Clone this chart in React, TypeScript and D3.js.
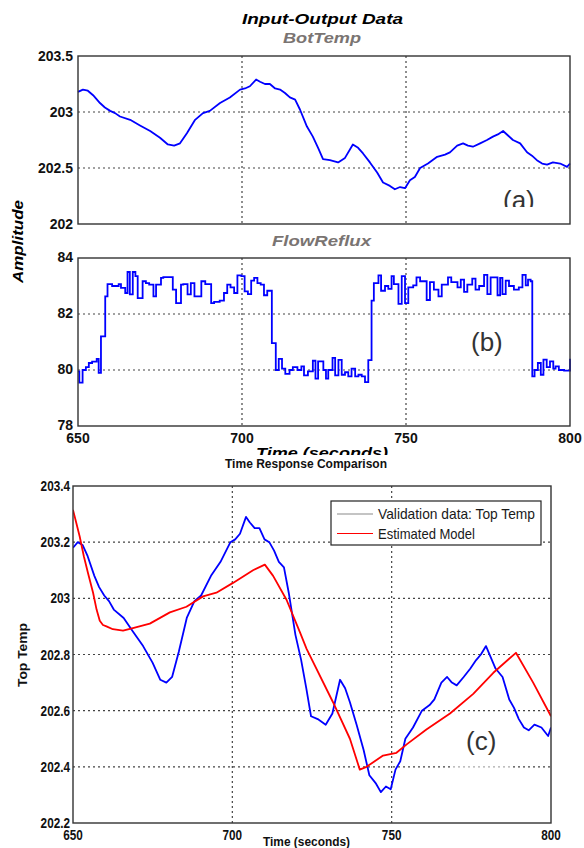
import React from 'react';
import * as d3 from 'd3';

const W = 584;
const H = 848;

// Column temperature output, time in seconds
const tempTime = [
  650.0, 651.5, 653.0, 654.6, 656.7, 658.2, 659.8, 661.3, 662.8, 665.9,
  668.9, 672.0, 675.0, 677.4, 679.3, 681.1, 683.2, 685.7, 688.1, 690.2,
  693.3, 696.3, 699.4, 700.9, 702.4, 704.3, 705.5, 707.0, 708.5, 710.1,
  711.6, 713.1, 714.6, 716.2, 717.7, 719.8, 721.6, 723.2, 724.7, 726.8,
  729.3, 731.4, 733.8, 735.4, 736.9, 739.0, 741.2, 743.0, 745.1, 746.6,
  748.2, 749.7, 751.2, 752.7, 754.3, 756.7, 759.5, 761.9, 763.4, 765.6,
  767.4, 768.9, 770.4, 772.6, 774.7, 776.5, 778.0, 779.6, 781.1, 782.6,
  784.8, 786.9, 788.4, 789.9, 791.5, 793.0, 794.8, 797.0, 799.1, 800.0,
];
const tempValue = [
  203.18, 203.20, 203.19, 203.15, 203.08, 203.04, 203.01, 202.99, 202.96, 202.93,
  202.88, 202.83, 202.77, 202.71, 202.70, 202.72, 202.81, 202.93, 202.99, 203.01,
  203.08, 203.13, 203.20, 203.21, 203.23, 203.29, 203.27, 203.25, 203.25, 203.21,
  203.20, 203.17, 203.13, 203.11, 203.02, 202.87, 202.78, 202.68, 202.58, 202.57,
  202.55, 202.59, 202.71, 202.68, 202.63, 202.55, 202.46, 202.37, 202.34, 202.31,
  202.33, 202.32, 202.39, 202.42, 202.50, 202.54, 202.60, 202.62, 202.64, 202.70,
  202.72, 202.70, 202.69, 202.72, 202.75, 202.78, 202.80, 202.83, 202.79, 202.75,
  202.72, 202.64, 202.61, 202.57, 202.54, 202.53, 202.55, 202.54, 202.51, 202.54,
];

// Reflux flow input (held between samples)
const flowTime = [
  650.0, 650.4, 651.4, 652.4, 653.3, 654.3, 655.7, 656.3, 657.0, 658.3,
  659.0, 660.4, 662.4, 663.1, 664.4, 665.1, 665.8, 666.7, 667.5, 668.2,
  669.7, 670.7, 671.7, 673.0, 673.8, 675.3, 676.0, 678.9, 679.9, 681.4,
  682.1, 683.4, 684.4, 685.5, 687.6, 688.8, 690.6, 691.5, 693.2, 694.5,
  695.5, 696.5, 697.6, 698.6, 699.8, 700.8, 701.8, 702.8, 703.7, 704.7,
  705.7, 706.7, 707.7, 709.1, 710.3, 711.2, 712.2, 713.2, 714.5, 715.5,
  716.9, 718.1, 718.9, 720.1, 721.6, 722.4, 723.2, 724.8, 725.6, 726.3,
  727.6, 728.4, 729.4, 730.4, 731.4, 732.4, 733.4, 734.5, 735.5, 736.5,
  737.5, 738.5, 739.5, 740.2, 741.6, 742.4, 743.6, 744.6, 745.6, 746.3,
  747.7, 748.7, 749.7, 750.7, 752.2, 753.2, 754.3, 756.3, 757.3, 758.5,
  759.9, 760.9, 762.8, 763.8, 765.7, 766.7, 767.7, 768.7, 770.2, 771.2,
  772.3, 773.8, 774.8, 775.8, 777.9, 778.7, 779.4, 780.4, 781.4, 782.9,
  784.4, 785.5, 786.5, 787.2, 788.0, 788.5, 789.2, 790.2, 791.1, 791.9,
  792.9, 793.9, 794.9, 795.6, 796.6, 798.2, 800.0,
];
const flowValue = [
  79.95, 79.55, 80.0, 80.1, 80.25, 80.3, 80.4, 79.9, 81.2, 82.63,
  83.07, 83.0, 83.07, 82.93, 82.75, 83.5, 82.7, 83.5, 83.35, 82.57,
  83.17, 83.1, 83.05, 82.63, 83.05, 83.29, 83.32, 82.87, 82.39, 83.05,
  83.07, 82.7, 83.1, 82.63, 83.17, 83.07, 82.39, 82.43, 82.48, 82.75,
  83.05, 82.95, 82.75, 83.38, 83.35, 82.81, 82.71, 83.19, 83.29, 83.1,
  83.05, 82.67, 82.83, 80.96, 80.0, 80.4, 80.05, 79.86, 80.0, 80.1,
  80.0, 80.13, 79.81, 79.95, 80.33, 79.69, 80.31, 80.0, 79.69, 80.0,
  80.43, 79.81, 80.36, 79.83, 79.92, 79.77, 80.05, 79.77, 79.83, 79.77,
  79.57, 80.35, 82.48, 83.1, 83.38, 82.83, 83.0, 82.9, 83.35, 83.07,
  82.36, 83.35, 82.39, 82.95, 83.02, 83.31, 83.17, 82.5, 83.14, 82.87,
  82.63, 83.05, 83.31, 83.14, 82.95, 83.23, 82.79, 83.05, 83.26, 82.87,
  83.0, 83.4, 82.71, 83.31, 82.67, 83.29, 82.71, 83.19, 83.0, 82.87,
  82.95, 83.4, 83.02, 83.23, 83.17, 79.77, 80.0, 80.25, 79.83, 80.37,
  80.1, 80.31, 80.05, 80.13, 80.0, 79.98, 80.4,
];

// Simulated response of the estimated model
const modelTime = [
  650.0, 651.0, 652.1, 653.4, 654.7, 656.3, 657.4, 658.4, 659.4, 660.5,
  662.5, 665.7, 668.8, 674.1, 680.4, 685.6, 690.8, 695.0, 700.2, 706.5,
  710.2, 712.8, 717.0, 721.2, 723.3, 731.6, 736.9, 740.0, 742.1, 747.3,
  751.5, 754.7, 760.9, 768.3, 775.6, 781.9, 789.0, 794.4, 800.0,
];
const modelValue = [
  203.315, 203.27, 203.22, 203.15, 203.09, 203.02, 202.96, 202.92, 202.905, 202.90,
  202.89, 202.885, 202.894, 202.91, 202.95, 202.97, 203.007, 203.02, 203.055, 203.10,
  203.12, 203.08, 202.995, 202.88, 202.82, 202.63, 202.50, 202.39, 202.40, 202.44,
  202.45, 202.48, 202.533, 202.59, 202.66, 202.735, 202.806, 202.70, 202.58,
];

const timeTicks = [650, 700, 750, 800];
const timeGrid = [700, 750];
const botTicks = [202, 202.5, 203, 203.5];
const botGrid = [202.5, 203];
const flowTicks = [78, 80, 82, 84];
const flowGrid = [80, 82];
const cmpTicks = [202.2, 202.4, 202.6, 202.8, 203, 203.2, 203.4];
const cmpGrid = [202.4, 202.6, 202.8, 203, 203.2];

const legendLabels = ['Validation data: Top Temp', 'Estimated Model'];
const legendColors = ['#8a8a8a', '#ff0000'];
const legendWidths = [157, 97];

const SANS = "'Liberation Sans', Arial, sans-serif";
const GRID = { stroke: '#444', strokeWidth: 1.2, strokeDasharray: '2 3' };
const fmt = (v: number) => String(+v.toFixed(1));

type Box = { x0: number; x1: number; y0: number; y1: number };

function Frame({ box, x, y, xGrid, yGrid }: { box: Box; x: d3.ScaleLinear<number, number>; y: d3.ScaleLinear<number, number>; xGrid: number[]; yGrid: number[] }) {
  return (
    <g>
      {yGrid.map((v) => (
        <line key={'h' + v} x1={box.x0} x2={box.x1} y1={y(v)} y2={y(v)} {...GRID} />
      ))}
      {xGrid.map((v) => (
        <line key={'v' + v} x1={x(v)} x2={x(v)} y1={box.y0} y2={box.y1} {...GRID} />
      ))}
    </g>
  );
}

function Border({ box }: { box: Box }) {
  return (
    <rect x={box.x0} y={box.y0} width={box.x1 - box.x0} height={box.y1 - box.y0} fill="none" stroke="#333" strokeWidth={1.4} />
  );
}

// Condensed label: horizontally squeezed around its anchor point
function Narrow({ x, y, sx = 0.84, anchor = 'middle', size = 14, children }: { x: number; y: number; sx?: number; anchor?: string; size?: number; children: React.ReactNode }) {
  return (
    <text transform={`translate(${x},${y}) scale(${sx},1)`} textAnchor={anchor} fontFamily={SANS} fontWeight={700} fontSize={size} fill="#111">
      {children}
    </text>
  );
}

export default function App() {
  const boxA: Box = { x0: 78, x1: 570, y0: 56, y1: 224 };
  const boxB: Box = { x0: 78, x1: 570, y0: 258, y1: 426 };
  const boxC: Box = { x0: 73, x1: 551, y0: 486, y1: 823 };

  const xA = d3.scaleLinear().domain([650, 800]).range([boxA.x0, boxA.x1]);
  const yA = d3.scaleLinear().domain([202, 203.5]).range([boxA.y1, boxA.y0]);
  const yB = d3.scaleLinear().domain([78, 84]).range([boxB.y1, boxB.y0]);
  const xC = d3.scaleLinear().domain([650, 800]).range([boxC.x0, boxC.x1]);
  const yC = d3.scaleLinear().domain([202.2, 203.4]).range([boxC.y1, boxC.y0]);

  const tempIdx = d3.range(tempTime.length);
  const flowIdx = d3.range(flowTime.length);
  const modelIdx = d3.range(modelTime.length);

  const lineA = d3.line<number>().x((i) => xA(tempTime[i])).y((i) => yA(tempValue[i]))(tempIdx) || '';
  const lineB = d3
    .line<number>()
    .curve(d3.curveStepAfter)
    .x((i) => xA(flowTime[i]))
    .y((i) => yB(flowValue[i]))(flowIdx) || '';
  const lineCv = d3.line<number>().x((i) => xC(tempTime[i])).y((i) => yC(tempValue[i]))(tempIdx) || '';
  const lineCm = d3.line<number>().x((i) => xC(modelTime[i])).y((i) => yC(modelValue[i]))(modelIdx) || '';

  const topTick = { fontFamily: SANS, fontWeight: 700, fontSize: 14, fill: '#111' } as const;
  const heading = { fontFamily: SANS, fontWeight: 700, fontStyle: 'italic', fontSize: 15, lengthAdjust: 'spacingAndGlyphs' } as const;

  return (
    <svg width={W} height={H} style={{ position: 'absolute', left: 0, top: 0 }} xmlns="http://www.w3.org/2000/svg">
      <defs>
        <clipPath id="clipC">
          <rect x={boxC.x0} y={boxC.y0} width={boxC.x1 - boxC.x0} height={boxC.y1 - boxC.y0} />
        </clipPath>
        <clipPath id="clipTop">
          <rect x={0} y={0} width={W} height={455} />
        </clipPath>
      </defs>
      <rect width={W} height={H} fill="#fff" />

      {/* Input-output data figure */}
      <text x={242} y={24} textLength={161} {...heading} fill="#000">
        Input-Output Data
      </text>
      <text x={283} y={43} textLength={78} {...heading} fill="#7a7472">
        BotTemp
      </text>
      <text x={272} y={246} textLength={99} {...heading} fill="#7a7472">
        FlowReflux
      </text>
      <text transform="translate(23,283) rotate(-90)" textLength={83} {...heading} fill="#000">
        Amplitude
      </text>

      <Frame box={boxA} x={xA} y={yA} xGrid={timeGrid} yGrid={botGrid} />
      <path d={lineA} fill="none" stroke="#0000ff" strokeWidth={1.8} strokeLinejoin="round" />
      <text x={503} y={209} fontFamily={SANS} fontSize={26} fill="#333">(a)</text>
      <rect x={485} y={207} width={60} height={16} fill="#fff" />
      <Border box={boxA} />
      {botTicks.map((v) => (
        <text key={v} x={73} y={yA(v) + 5} textAnchor="end" {...topTick}>
          {fmt(v)}
        </text>
      ))}

      <Frame box={boxB} x={xA} y={yB} xGrid={timeGrid} yGrid={flowGrid} />
      <rect x={455} y={366} width={65} height={6} fill="#fff" opacity={0.55} />
      <path d={lineB} fill="none" stroke="#0000ff" strokeWidth={1.8} />
      <text x={471} y={351} fontFamily={SANS} fontSize={26} fill="#333">(b)</text>
      <Border box={boxB} />
      {flowTicks.map((v) => (
        <text key={v} x={73} y={yB(v) + 3.5} textAnchor="end" {...topTick}>
          {fmt(v)}
        </text>
      ))}
      {timeTicks.map((v) => (
        <text key={v} x={xA(v)} y={443} textAnchor="middle" {...topTick}>
          {v}
        </text>
      ))}
      <g clipPath="url(#clipTop)">
        <text x={256} y={458} textLength={132} {...heading} fill="#000">
          Time (seconds)
        </text>
      </g>

      {/* Time response comparison figure */}
      <rect x={0} y={455} width={W} height={H - 455} fill="#fff" />
      <text x={225} y={468} textLength={162} lengthAdjust="spacingAndGlyphs" fontFamily={SANS} fontWeight={700} fontSize={13.5} fill="#111">
        Time Response Comparison
      </text>
      <Frame box={boxC} x={xC} y={yC} xGrid={timeGrid} yGrid={cmpGrid} />
      <rect x={450} y={764} width={62} height={6} fill="#fff" opacity={0.55} />
      <g clipPath="url(#clipC)">
        <path d={lineCv} fill="none" stroke="#0000ff" strokeWidth={1.8} strokeLinejoin="round" />
        <path d={lineCm} fill="none" stroke="#ff0000" strokeWidth={1.8} strokeLinejoin="round" />
      </g>
      <text x={466} y={750} fontFamily={SANS} fontSize={26} fill="#333">(c)</text>
      <Border box={boxC} />

      <rect x={331} y={501} width={210} height={44} fill="#fff" stroke="#222" strokeWidth={1.2} />
      {legendLabels.map((lab, i) => (
        <g key={lab}>
          <line x1={337} x2={373} y1={514 + i * 19.5} y2={514 + i * 19.5} stroke={legendColors[i]} strokeWidth={1.1} />
          <text x={378} y={519 + i * 19.5} textLength={legendWidths[i]} lengthAdjust="spacingAndGlyphs" fontFamily={SANS} fontSize={14.5} fill="#1a1a1a">
            {lab}
          </text>
        </g>
      ))}

      {cmpTicks.map((v) => (
        <Narrow key={v} x={70} y={yC(v) + 5} anchor="end">
          {fmt(v)}
        </Narrow>
      ))}
      {timeTicks.map((v) => (
        <Narrow key={v} x={xC(v)} y={840}>
          {v}
        </Narrow>
      ))}
      <text x={263} y={846} textLength={87} lengthAdjust="spacingAndGlyphs" fontFamily={SANS} fontWeight={700} fontSize={13.5} fill="#111">
        Time (seconds)
      </text>
      <text transform="translate(27,687) rotate(-90)" textLength={64} lengthAdjust="spacingAndGlyphs" fontFamily={SANS} fontWeight={700} fontSize={13.5} fill="#111">
        Top Temp
      </text>
    </svg>
  );
}
